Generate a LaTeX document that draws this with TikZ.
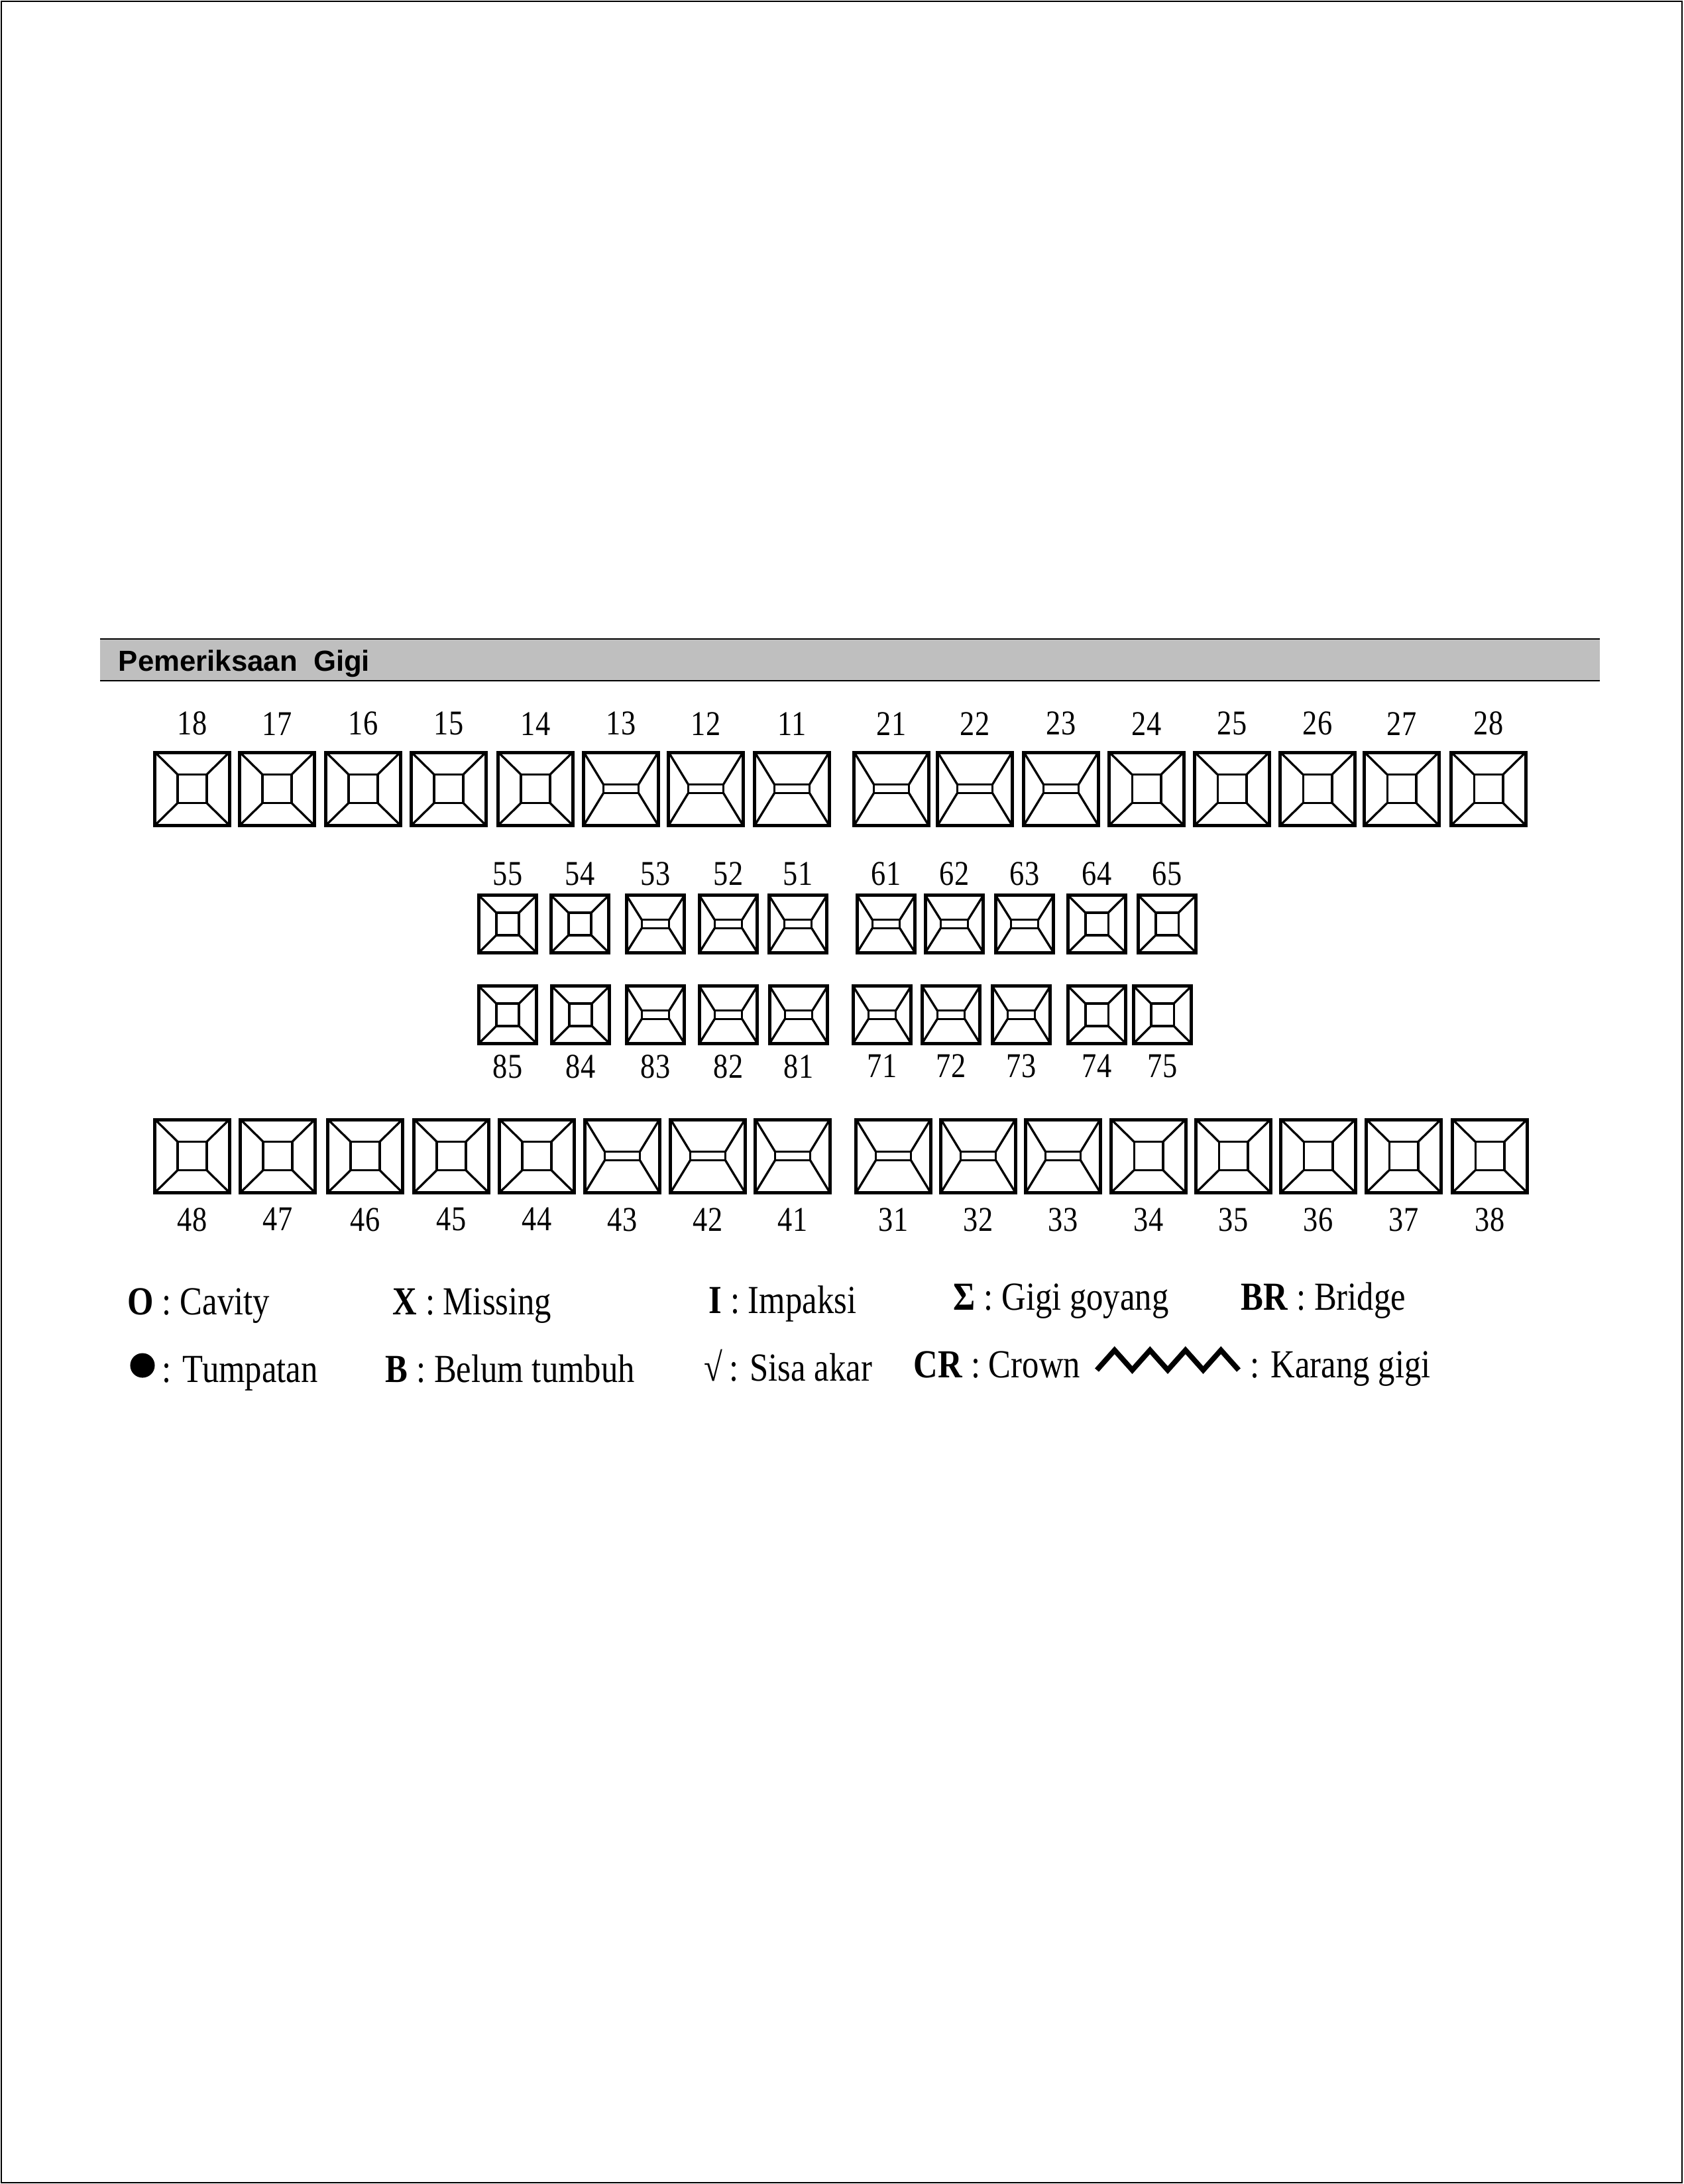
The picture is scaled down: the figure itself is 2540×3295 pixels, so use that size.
\documentclass[tikz,border=0pt]{standalone}
\usepackage{fontspec}
\setmainfont{Liberation Serif}[FakeStretch=0.845]
\newfontfamily\headfont{Liberation Sans}
\usetikzlibrary{positioning,calc}

\tikzset{
  tooth/.style={draw, line width=1.2pt, outer sep=0pt, inner sep=0pt},
  bigtooth/.style={tooth, minimum width=26.9pt, minimum height=26.4pt},
  smalltooth/.style={tooth, minimum width=21.1pt, minimum height=20.9pt},
  fine/.style={line width=0.8pt, line join=round},
  num/.style={inner sep=0pt, font=\fontsize{12.6}{14}\selectfont},
  key/.style={anchor=base west, inner sep=0pt, font=\fontsize{14.4}{16}\selectfont}
}

% molar: small square in the middle, joined to the corners
\newcommand{\molar}[1]{%
  \draw[fine] ($(#1.center)!0.39!(#1.north west)$) coordinate (#1a)
    -- ($(#1.center)!0.39!(#1.north east)$) coordinate (#1b)
    -- ($(#1.center)!0.39!(#1.south east)$) coordinate (#1c)
    -- ($(#1.center)!0.39!(#1.south west)$) coordinate (#1d) -- cycle;
  \draw[fine] (#1.north west) -- (#1a) (#1.north east) -- (#1b)
    (#1.south east) -- (#1c) (#1.south west) -- (#1d);
}
% incisor: thin bar in the middle, joined to the corners
\newcommand{\incisor}[1]{%
  \draw[fine] ($(#1.center)!0.47!(#1.west)+(0,1.5pt)$) coordinate (#1a)
    -- ($(#1.center)!0.47!(#1.east)+(0,1.5pt)$) coordinate (#1b)
    -- ($(#1.center)!0.47!(#1.east)-(0,1.5pt)$) coordinate (#1c)
    -- ($(#1.center)!0.47!(#1.west)-(0,1.5pt)$) coordinate (#1d) -- cycle;
  \draw[fine] (#1.north west) -- (#1a) (#1.north east) -- (#1b)
    (#1.south east) -- (#1c) (#1.south west) -- (#1d);
}

\begin{document}
\begin{tikzpicture}[x=0.24pt,y=-0.24pt]
    \useasboundingbox (0,0) rectangle (2540,3295);
    % page frame
    \draw[line width=0.5pt] (2,2) rectangle (2538,3293);
    % title bar
    \fill[black!25] (151,964) rectangle (2414,1027);
    \draw[line width=0.6pt] (151,964) -- (2414,964);
    \draw[line width=0.6pt] (151,1027) -- (2414,1027);
    \node[anchor=base west, inner sep=0pt, font={\headfont\bfseries\fontsize{10.5}{12}\selectfont}] (title) at (178,1013) {Pemeriksaan\ \ Gigi};

    % upper permanent teeth
    \foreach \n/\x/\k in {
      18/290/molar, 17/418/molar, 16/548/molar, 15/677/molar, 14/808/molar,
      13/937/incisor, 12/1065/incisor, 11/1195/incisor,
      21/1345/incisor, 22/1471/incisor, 23/1601/incisor,
      24/1730/molar, 25/1859/molar, 26/1988/molar, 27/2115/molar, 28/2246/molar} {
      \node[bigtooth] (t\n) at (\x,1190) {};
      \csname\k\endcsname{t\n}
      \node[num, above=6pt of t\n] (n\n) {\n};
    }
    % upper milk teeth
    \foreach \n/\x/\k in {
      55/766/molar, 54/875/molar, 53/989/incisor, 52/1099/incisor, 51/1204/incisor,
      61/1337/incisor, 62/1440/incisor, 63/1546/incisor, 64/1655/molar, 65/1761/molar} {
      \node[smalltooth] (t\n) at (\x,1394) {};
      \csname\k\endcsname{t\n}
      \node[num, above=3.2pt of t\n] (n\n) {\n};
    }
    % lower milk teeth
    \foreach \n/\x/\k in {
      85/766/molar, 84/876/molar, 83/989/incisor, 82/1099/incisor, 81/1205/incisor,
      71/1331/incisor, 72/1435/incisor, 73/1541/incisor, 74/1655/molar, 75/1754/molar} {
      \node[smalltooth] (t\n) at (\x,1531) {};
      \csname\k\endcsname{t\n}
      \node[num, below=3.8pt of t\n] (n\n) {\n};
    }
    % lower permanent teeth
    \foreach \n/\x/\k in {
      48/290/molar, 47/419/molar, 46/551/molar, 45/681/molar, 44/810/molar,
      43/939/incisor, 42/1068/incisor, 41/1196/incisor,
      31/1348/incisor, 32/1476/incisor, 33/1604/incisor,
      34/1733/molar, 35/1861/molar, 36/1989/molar, 37/2118/molar, 38/2248/molar} {
      \node[bigtooth] (t\n) at (\x,1744) {};
      \csname\k\endcsname{t\n}
      \node[num, below=5.4pt of t\n] (n\n) {\n};
    }

    % legend
    \node[key] (kO) at (192,1983) {\textbf{O} : Cavity};
    \node[key] (kX) at (592,1983) {\textbf{X} : Missing};
    \node[key] (kI) at (1069,1981) {\textbf{I} : Impaksi};
    \node[key] (kS) at (1438,1976) {\textbf{Σ} : Gigi goyang};
    \node[key] (kBR) at (1872,1976) {\textbf{BR} : Bridge};
    \node[circle, fill, inner sep=0pt, minimum size=8.9pt] (kdot) at (215,2060) {};
    \node[key] (kT) at (244,2085) {: Tumpatan};
    \node[key] (kB) at (581,2085) {\textbf{B} : Belum tumbuh};
    \node[key] (kV) at (1062,2083) {\textbf{√}\,: Sisa akar};
    \node[key] (kCR) at (1378,2078) {\textbf{CR} : Crown};
    \draw[line width=1.9pt, line join=miter] (1655,2067)
      \foreach \i in {1,...,4} { -- ++(26.75,-30) -- ++(26.75,30) };
    \node[key] (kK) at (1886,2078) {: Karang gigi};
\end{tikzpicture}
\end{document}
